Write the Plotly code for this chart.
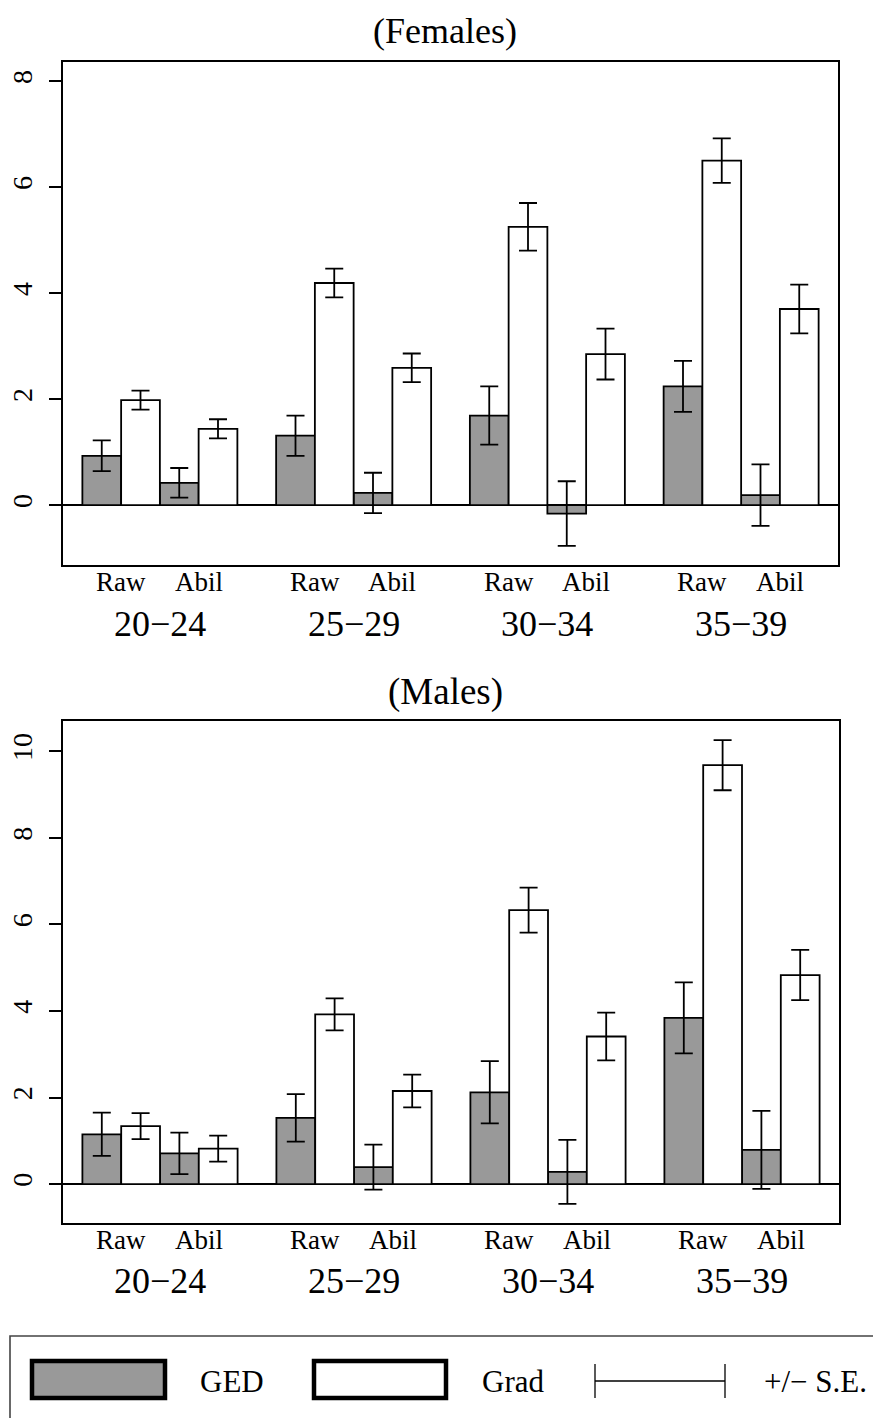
import plotly.graph_objects as go

# The page body has an 8 px margin; the figure sits at (8, 8).
OFF = 8
W, H = 881 - OFF, 1418 - OFF

ages = ["20−24", "25−29", "30−34", "35−39"]
measures = ["Raw", "Abil"]

fem_ged = [0.93, 0.42, 1.31, 0.23, 1.69, -0.16, 2.24, 0.19]
fem_ged_se = [0.29, 0.28, 0.38, 0.38, 0.55, 0.61, 0.48, 0.58]
fem_grad = [1.98, 1.44, 4.19, 2.59, 5.25, 2.85, 6.50, 3.70]
fem_grad_se = [0.18, 0.18, 0.27, 0.27, 0.45, 0.48, 0.42, 0.46]

male_ged = [1.15, 0.71, 1.53, 0.39, 2.12, 0.28, 3.84, 0.79]
male_ged_se = [0.50, 0.48, 0.55, 0.52, 0.72, 0.74, 0.82, 0.90]
male_grad = [1.34, 0.82, 3.92, 2.15, 6.33, 3.41, 9.68, 4.83]
male_grad_se = [0.30, 0.30, 0.37, 0.38, 0.52, 0.55, 0.58, 0.58]

fem_yticks = [0, 2, 4, 6, 8]
male_yticks = [0, 2, 4, 6, 8, 10]

GRAY = "#999999"
SERIF = "Liberation Serif"

# layout positions (bar units)
ged_x = [i * 5 + 2 * j + 1 for i in range(len(ages)) for j in range(len(measures))]
grad_x = [x + 1 for x in ged_x]
meas_x = [x + 0.5 for x in ged_x]
meas_txt = [m for _ in ages for m in measures]
age_x = [i * 5 + 2.5 for i in range(len(ages))]


def px(x):
    return (x - OFF) / W


def py(y):
    return 1 - (y - OFF) / H


fig = go.Figure()

panels = [
    (fem_ged, fem_ged_se, fem_grad, fem_grad_se, "x", "y"),
    (male_ged, male_ged_se, male_grad, male_grad_se, "x2", "y2"),
]
for g, gse, r, rse, xa, ya in panels:
    fig.add_trace(go.Bar(
        x=ged_x, y=g, width=1, xaxis=xa, yaxis=ya,
        marker=dict(color=GRAY, line=dict(color="black", width=1.8)),
        error_y=dict(type="data", array=gse, color="black", thickness=1.8, width=9),
        showlegend=False, hoverinfo="skip"))
    fig.add_trace(go.Bar(
        x=grad_x, y=r, width=1, xaxis=xa, yaxis=ya,
        marker=dict(color="white", line=dict(color="black", width=1.8)),
        error_y=dict(type="data", array=rse, color="black", thickness=1.8, width=9),
        showlegend=False, hoverinfo="skip"))

xcommon = dict(range=[0, 20], showgrid=False, zeroline=False, showline=True,
               linecolor="black", linewidth=1.8, mirror=True, ticks="",
               showticklabels=False)
ycommon = dict(showgrid=False, showline=True, linecolor="black", linewidth=1.8,
               mirror=True, ticks="outside", ticklen=12, tickwidth=1.8,
               tickcolor="black", tickangle=-90,
               tickfont=dict(family=SERIF, size=28, color="black"),
               zeroline=True, zerolinecolor="black", zerolinewidth=1.8,
               ticklabelstandoff=6)

fig.update_layout(
    width=W, height=H, margin=dict(l=0, r=0, t=0, b=0),
    paper_bgcolor="white", plot_bgcolor="white", barmode="overlay",
    xaxis=dict(domain=[px(63), px(838)], anchor="y", **xcommon),
    yaxis=dict(domain=[py(565), py(62)], anchor="x", range=[-1.13, 8.36],
               tickvals=fem_yticks, **ycommon),
    xaxis2=dict(domain=[px(63), px(839)], anchor="y2", **xcommon),
    yaxis2=dict(domain=[py(1223), py(721)], anchor="x2", range=[-0.90, 10.70],
                tickvals=male_yticks, **ycommon),
)

ann = []
for xa, ymeas, yage in (("x", 582, 624), ("x2", 1240, 1281)):
    for m, x in zip(meas_txt, meas_x):
        ann.append(dict(x=x, y=py(ymeas), xref=xa, yref="paper", text=m,
                        showarrow=False, xanchor="center", yanchor="middle",
                        font=dict(family=SERIF, size=27, color="black")))
    for a, x in zip(ages, age_x):
        ann.append(dict(x=x, y=py(yage), xref=xa, yref="paper", text=a,
                        showarrow=False, xanchor="center", yanchor="middle",
                        font=dict(family=SERIF, size=36, color="black")))
ann.append(dict(x=px(445), y=py(53), xref="paper", yref="paper", text="(Females)",
                showarrow=False, xanchor="center", yanchor="bottom",
                font=dict(family=SERIF, size=36, color="black")))
ann.append(dict(x=px(445), y=py(692), xref="paper", yref="paper", text="(Males)",
                showarrow=False, xanchor="center", yanchor="middle",
                font=dict(family=SERIF, size=37, color="black")))

# legend
leg_font = dict(family=SERIF, size=31, color="black")
ann.append(dict(x=px(232), y=py(1381), xref="paper", yref="paper", text="GED",
                showarrow=False, xanchor="center", yanchor="middle", font=leg_font))
ann.append(dict(x=px(513), y=py(1381), xref="paper", yref="paper", text="Grad",
                showarrow=False, xanchor="center", yanchor="middle", font=leg_font))
ann.append(dict(x=px(815), y=py(1381), xref="paper", yref="paper", text="+/− S.E.",
                showarrow=False, xanchor="center", yanchor="middle", font=leg_font))

shapes = [
    dict(type="rect", xref="paper", yref="paper", x0=px(10), x1=px(900),
         y0=py(1440), y1=py(1336), line=dict(color="#444444", width=1.6)),
    dict(type="rect", xref="paper", yref="paper", x0=px(32), x1=px(165),
         y0=py(1398), y1=py(1361), fillcolor=GRAY, line=dict(color="black", width=4.5)),
    dict(type="rect", xref="paper", yref="paper", x0=px(314), x1=px(446),
         y0=py(1398), y1=py(1361), fillcolor="white", line=dict(color="black", width=4.5)),
    dict(type="line", xref="paper", yref="paper", x0=px(595), x1=px(725),
         y0=py(1381), y1=py(1381), line=dict(color="black", width=1.3)),
    dict(type="line", xref="paper", yref="paper", x0=px(595), x1=px(595),
         y0=py(1364), y1=py(1398), line=dict(color="black", width=1.3)),
    dict(type="line", xref="paper", yref="paper", x0=px(725), x1=px(725),
         y0=py(1364), y1=py(1398), line=dict(color="black", width=1.3)),
]

fig.update_layout(annotations=ann, shapes=shapes)
fig.write_html("out.html")
